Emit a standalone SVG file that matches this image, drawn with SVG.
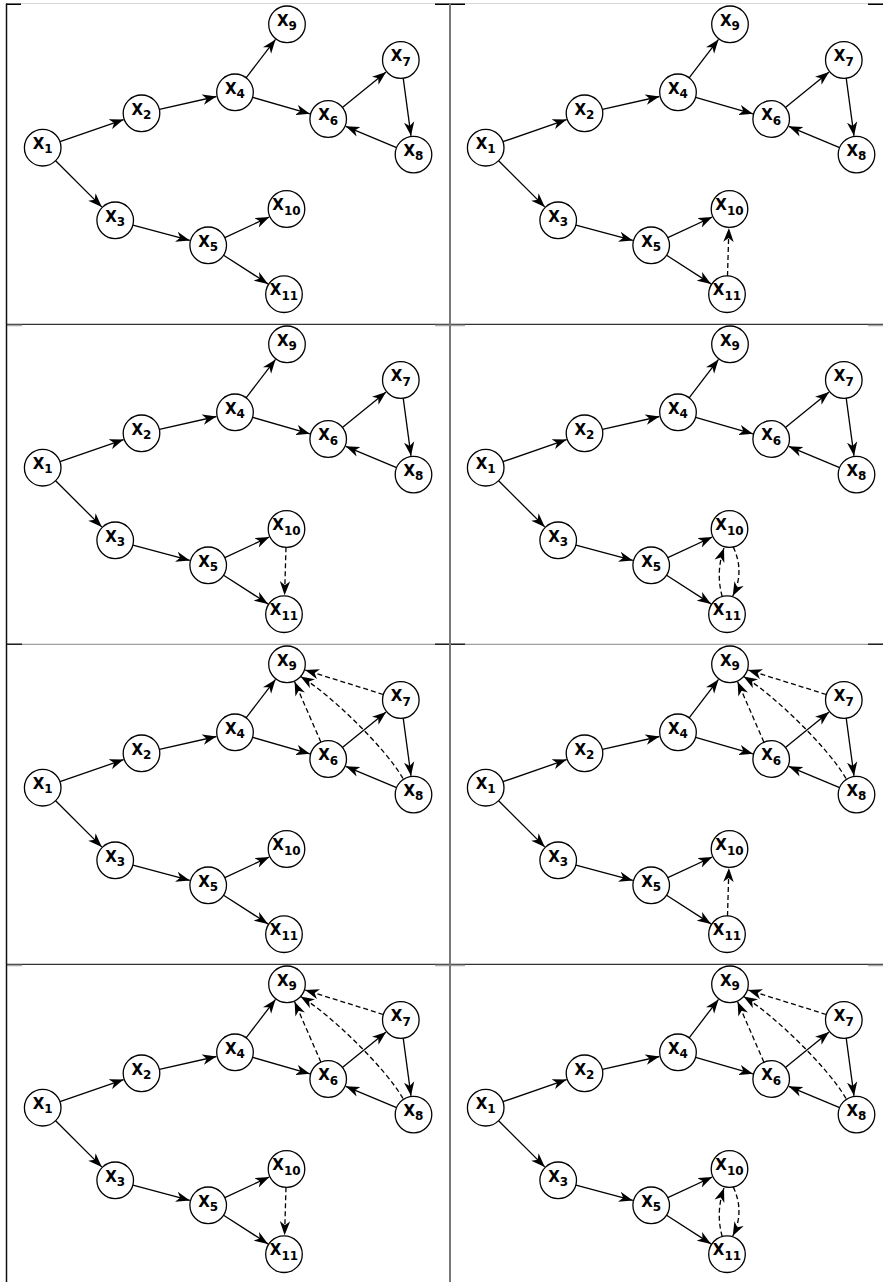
<svg xmlns="http://www.w3.org/2000/svg" width="883" height="1282" viewBox="0 0 883 1282">
<style>
.e{stroke:#000;stroke-width:1.3;fill:none;marker-end:url(#ah)}
.d{stroke-dasharray:5 3}
circle{fill:#fff;stroke:#000;stroke-width:1.3}
text{font-family:"DejaVu Sans",sans-serif;font-weight:bold;font-size:15px;text-anchor:middle;fill:#000}
.s{font-size:12px}
.fr{fill:none}
</style>
<defs>
<marker id="ah" viewBox="0 0 14 11" refX="14" refY="5.5" markerWidth="14" markerHeight="11" markerUnits="userSpaceOnUse" orient="auto">
<path d="M0,0.3 L14,5.5 L0,10.7 L4,5.5 Z" fill="#000"/>
</marker>
</defs>
<rect width="883" height="1282" fill="#fff"/>
<g id="frame" class="fr">
<line x1="6" y1="3.5" x2="883" y2="3.5" stroke="#d8d8d8" stroke-width="1"/>
<path d="M6,4.3 H21 M435,4.3 H465 M868,4.3 H883" stroke="#000" stroke-width="1.5"/>
<line x1="6" y1="324.3" x2="883" y2="324.3" stroke="#333" stroke-width="1.2"/>
<path d="M7,325.5 H22 M435,325.5 H465 M868,325.5 H883" stroke="#aaa" stroke-width="1.3"/>
<line x1="6" y1="644.3" x2="883" y2="644.3" stroke="#888" stroke-width="1"/>
<path d="M7,644.3 H22 M435,644.3 H465 M868,644.3 H883" stroke="#222" stroke-width="1.4"/>
<line x1="6" y1="964.3" x2="883" y2="964.3" stroke="#333" stroke-width="1.2"/>
<path d="M7,965.5 H22 M435,965.5 H465 M868,965.5 H883" stroke="#aaa" stroke-width="1.3"/>
<line x1="6.5" y1="3.5" x2="6.5" y2="1282" stroke="#111" stroke-width="1.5"/>
<line x1="450" y1="3.5" x2="450" y2="1282" stroke="#777" stroke-width="2"/>
</g>

<!-- Panel 1 -->
<g id="panel1">
<g id="p1-edges">
<path class="e" d="M60,141.7 L123.6,119.6"/>
<path class="e" d="M55.6,160.7 L101.8,206.9"/>
<path class="e" d="M159.4,109.3 L216.5,96.5"/>
<path class="e" d="M246.1,77.8 L275.5,39.4"/>
<path class="e" d="M252.6,97.3 L309.9,113.8"/>
<path class="e" d="M342.4,107.5 L386.1,72"/>
<path class="e" d="M403.2,78.1 L411,135.8"/>
<path class="e" d="M396.6,147.6 L345.7,126.3"/>
<path class="e" d="M132.9,225.1 L189.9,240.4"/>
<path class="e" d="M224.8,237.6 L269.3,217"/>
<path class="e" d="M223.6,255.2 L268,283.9"/>
</g>
<g id="p1-x1"><circle cx="42.7" cy="147.7" r="18.3"/><text x="42.7" y="148.9">X<tspan class="s" dy="4.5">1</tspan></text></g>
<g id="p1-x2"><circle cx="141.5" cy="113.3" r="18.3"/><text x="141.5" y="114.5">X<tspan class="s" dy="4.5">2</tspan></text></g>
<g id="p1-x3"><circle cx="115.2" cy="220.3" r="18.3"/><text x="115.2" y="221.5">X<tspan class="s" dy="4.5">3</tspan></text></g>
<g id="p1-x4"><circle cx="235" cy="92.3" r="18.3"/><text x="235" y="93.5">X<tspan class="s" dy="4.5">4</tspan></text></g>
<g id="p1-x5"><circle cx="208.2" cy="245.3" r="18.3"/><text x="208.2" y="246.5">X<tspan class="s" dy="4.5">5</tspan></text></g>
<g id="p1-x6"><circle cx="328.2" cy="119" r="18.3"/><text x="328.2" y="120.2">X<tspan class="s" dy="4.5">6</tspan></text></g>
<g id="p1-x7"><circle cx="400.8" cy="60" r="18.3"/><text x="400.8" y="61.2">X<tspan class="s" dy="4.5">7</tspan></text></g>
<g id="p1-x8"><circle cx="413.5" cy="154.6" r="18.3"/><text x="413.5" y="155.8">X<tspan class="s" dy="4.5">8</tspan></text></g>
<g id="p1-x9"><circle cx="287" cy="24.3" r="18.3"/><text x="287" y="25.5">X<tspan class="s" dy="4.5">9</tspan></text></g>
<g id="p1-x10"><circle cx="286.5" cy="209" r="18.3"/><text x="286.5" y="210.2">X<tspan class="s" dy="4.5">10</tspan></text></g>
<g id="p1-x11"><circle cx="284" cy="294.2" r="18.3"/><text x="284" y="295.4">X<tspan class="s" dy="4.5">11</tspan></text></g>
</g>

<!-- Panel 2 -->
<g id="panel2" transform="translate(443,0)">
<g id="p2-edges">
<path class="e" d="M60,141.7 L123.6,119.6"/>
<path class="e" d="M55.6,160.7 L101.8,206.9"/>
<path class="e" d="M159.4,109.3 L216.5,96.5"/>
<path class="e" d="M246.1,77.8 L275.5,39.4"/>
<path class="e" d="M252.6,97.3 L309.9,113.8"/>
<path class="e" d="M342.4,107.5 L386.1,72"/>
<path class="e" d="M403.2,78.1 L411,135.8"/>
<path class="e" d="M396.6,147.6 L345.7,126.3"/>
<path class="e" d="M132.9,225.1 L189.9,240.4"/>
<path class="e" d="M224.8,237.6 L269.3,217"/>
<path class="e" d="M223.6,255.2 L268,283.9"/>
<path class="e d" d="M284.5,275.9 L285.9,228"/>
</g>
<g id="p2-x1"><circle cx="42.7" cy="147.7" r="18.3"/><text x="42.7" y="148.9">X<tspan class="s" dy="4.5">1</tspan></text></g>
<g id="p2-x2"><circle cx="141.5" cy="113.3" r="18.3"/><text x="141.5" y="114.5">X<tspan class="s" dy="4.5">2</tspan></text></g>
<g id="p2-x3"><circle cx="115.2" cy="220.3" r="18.3"/><text x="115.2" y="221.5">X<tspan class="s" dy="4.5">3</tspan></text></g>
<g id="p2-x4"><circle cx="235" cy="92.3" r="18.3"/><text x="235" y="93.5">X<tspan class="s" dy="4.5">4</tspan></text></g>
<g id="p2-x5"><circle cx="208.2" cy="245.3" r="18.3"/><text x="208.2" y="246.5">X<tspan class="s" dy="4.5">5</tspan></text></g>
<g id="p2-x6"><circle cx="328.2" cy="119" r="18.3"/><text x="328.2" y="120.2">X<tspan class="s" dy="4.5">6</tspan></text></g>
<g id="p2-x7"><circle cx="400.8" cy="60" r="18.3"/><text x="400.8" y="61.2">X<tspan class="s" dy="4.5">7</tspan></text></g>
<g id="p2-x8"><circle cx="413.5" cy="154.6" r="18.3"/><text x="413.5" y="155.8">X<tspan class="s" dy="4.5">8</tspan></text></g>
<g id="p2-x9"><circle cx="287" cy="24.3" r="18.3"/><text x="287" y="25.5">X<tspan class="s" dy="4.5">9</tspan></text></g>
<g id="p2-x10"><circle cx="286.5" cy="209" r="18.3"/><text x="286.5" y="210.2">X<tspan class="s" dy="4.5">10</tspan></text></g>
<g id="p2-x11"><circle cx="284" cy="294.2" r="18.3"/><text x="284" y="295.4">X<tspan class="s" dy="4.5">11</tspan></text></g>
</g>

<!-- Panel 3 -->
<g id="panel3" transform="translate(0,320)">
<g id="p3-edges">
<path class="e" d="M60,141.7 L123.6,119.6"/>
<path class="e" d="M55.6,160.7 L101.8,206.9"/>
<path class="e" d="M159.4,109.3 L216.5,96.5"/>
<path class="e" d="M246.1,77.8 L275.5,39.4"/>
<path class="e" d="M252.6,97.3 L309.9,113.8"/>
<path class="e" d="M342.4,107.5 L386.1,72"/>
<path class="e" d="M403.2,78.1 L411,135.8"/>
<path class="e" d="M396.6,147.6 L345.7,126.3"/>
<path class="e" d="M132.9,225.1 L189.9,240.4"/>
<path class="e" d="M224.8,237.6 L269.3,217"/>
<path class="e" d="M223.6,255.2 L268,283.9"/>
<path class="e d" d="M286,227.3 L284.6,275.2"/>
</g>
<g id="p3-x1"><circle cx="42.7" cy="147.7" r="18.3"/><text x="42.7" y="148.9">X<tspan class="s" dy="4.5">1</tspan></text></g>
<g id="p3-x2"><circle cx="141.5" cy="113.3" r="18.3"/><text x="141.5" y="114.5">X<tspan class="s" dy="4.5">2</tspan></text></g>
<g id="p3-x3"><circle cx="115.2" cy="220.3" r="18.3"/><text x="115.2" y="221.5">X<tspan class="s" dy="4.5">3</tspan></text></g>
<g id="p3-x4"><circle cx="235" cy="92.3" r="18.3"/><text x="235" y="93.5">X<tspan class="s" dy="4.5">4</tspan></text></g>
<g id="p3-x5"><circle cx="208.2" cy="245.3" r="18.3"/><text x="208.2" y="246.5">X<tspan class="s" dy="4.5">5</tspan></text></g>
<g id="p3-x6"><circle cx="328.2" cy="119" r="18.3"/><text x="328.2" y="120.2">X<tspan class="s" dy="4.5">6</tspan></text></g>
<g id="p3-x7"><circle cx="400.8" cy="60" r="18.3"/><text x="400.8" y="61.2">X<tspan class="s" dy="4.5">7</tspan></text></g>
<g id="p3-x8"><circle cx="413.5" cy="154.6" r="18.3"/><text x="413.5" y="155.8">X<tspan class="s" dy="4.5">8</tspan></text></g>
<g id="p3-x9"><circle cx="287" cy="24.3" r="18.3"/><text x="287" y="25.5">X<tspan class="s" dy="4.5">9</tspan></text></g>
<g id="p3-x10"><circle cx="286.5" cy="209" r="18.3"/><text x="286.5" y="210.2">X<tspan class="s" dy="4.5">10</tspan></text></g>
<g id="p3-x11"><circle cx="284" cy="294.2" r="18.3"/><text x="284" y="295.4">X<tspan class="s" dy="4.5">11</tspan></text></g>
</g>

<!-- Panel 4 -->
<g id="panel4" transform="translate(443,320)">
<g id="p4-edges">
<path class="e" d="M60,141.7 L123.6,119.6"/>
<path class="e" d="M55.6,160.7 L101.8,206.9"/>
<path class="e" d="M159.4,109.3 L216.5,96.5"/>
<path class="e" d="M246.1,77.8 L275.5,39.4"/>
<path class="e" d="M252.6,97.3 L309.9,113.8"/>
<path class="e" d="M342.4,107.5 L386.1,72"/>
<path class="e" d="M403.2,78.1 L411,135.8"/>
<path class="e" d="M396.6,147.6 L345.7,126.3"/>
<path class="e" d="M132.9,225.1 L189.9,240.4"/>
<path class="e" d="M224.8,237.6 L269.3,217"/>
<path class="e" d="M223.6,255.2 L268,283.9"/>
<path class="e d" d="M279.2,276.5 Q272.5,252.5 281,228"/>
<path class="e d" d="M290.2,226.9 Q302,252 289.7,276.1"/>
</g>
<g id="p4-x1"><circle cx="42.7" cy="147.7" r="18.3"/><text x="42.7" y="148.9">X<tspan class="s" dy="4.5">1</tspan></text></g>
<g id="p4-x2"><circle cx="141.5" cy="113.3" r="18.3"/><text x="141.5" y="114.5">X<tspan class="s" dy="4.5">2</tspan></text></g>
<g id="p4-x3"><circle cx="115.2" cy="220.3" r="18.3"/><text x="115.2" y="221.5">X<tspan class="s" dy="4.5">3</tspan></text></g>
<g id="p4-x4"><circle cx="235" cy="92.3" r="18.3"/><text x="235" y="93.5">X<tspan class="s" dy="4.5">4</tspan></text></g>
<g id="p4-x5"><circle cx="208.2" cy="245.3" r="18.3"/><text x="208.2" y="246.5">X<tspan class="s" dy="4.5">5</tspan></text></g>
<g id="p4-x6"><circle cx="328.2" cy="119" r="18.3"/><text x="328.2" y="120.2">X<tspan class="s" dy="4.5">6</tspan></text></g>
<g id="p4-x7"><circle cx="400.8" cy="60" r="18.3"/><text x="400.8" y="61.2">X<tspan class="s" dy="4.5">7</tspan></text></g>
<g id="p4-x8"><circle cx="413.5" cy="154.6" r="18.3"/><text x="413.5" y="155.8">X<tspan class="s" dy="4.5">8</tspan></text></g>
<g id="p4-x9"><circle cx="287" cy="24.3" r="18.3"/><text x="287" y="25.5">X<tspan class="s" dy="4.5">9</tspan></text></g>
<g id="p4-x10"><circle cx="286.5" cy="209" r="18.3"/><text x="286.5" y="210.2">X<tspan class="s" dy="4.5">10</tspan></text></g>
<g id="p4-x11"><circle cx="284" cy="294.2" r="18.3"/><text x="284" y="295.4">X<tspan class="s" dy="4.5">11</tspan></text></g>
</g>

<!-- Panel 5 -->
<g id="panel5" transform="translate(0,640)">
<g id="p5-edges">
<path class="e" d="M60,141.7 L123.6,119.6"/>
<path class="e" d="M55.6,160.7 L101.8,206.9"/>
<path class="e" d="M159.4,109.3 L216.5,96.5"/>
<path class="e" d="M246.1,77.8 L275.5,39.4"/>
<path class="e" d="M252.6,97.3 L309.9,113.8"/>
<path class="e" d="M342.4,107.5 L386.1,72"/>
<path class="e" d="M403.2,78.1 L411,135.8"/>
<path class="e" d="M396.6,147.6 L345.7,126.3"/>
<path class="e" d="M132.9,225.1 L189.9,240.4"/>
<path class="e" d="M224.8,237.6 L269.3,217"/>
<path class="e" d="M223.6,255.2 L268,283.9"/>
<path class="e d" d="M383.3,54.5 L305.1,30"/>
<path class="e d" d="M320.9,102.2 L294.6,41.7"/>
<path class="e d" d="M403,138.5 C385.5,108 330.6,54.4 300.5,36.5"/>
</g>
<g id="p5-x1"><circle cx="42.7" cy="147.7" r="18.3"/><text x="42.7" y="148.9">X<tspan class="s" dy="4.5">1</tspan></text></g>
<g id="p5-x2"><circle cx="141.5" cy="113.3" r="18.3"/><text x="141.5" y="114.5">X<tspan class="s" dy="4.5">2</tspan></text></g>
<g id="p5-x3"><circle cx="115.2" cy="220.3" r="18.3"/><text x="115.2" y="221.5">X<tspan class="s" dy="4.5">3</tspan></text></g>
<g id="p5-x4"><circle cx="235" cy="92.3" r="18.3"/><text x="235" y="93.5">X<tspan class="s" dy="4.5">4</tspan></text></g>
<g id="p5-x5"><circle cx="208.2" cy="245.3" r="18.3"/><text x="208.2" y="246.5">X<tspan class="s" dy="4.5">5</tspan></text></g>
<g id="p5-x6"><circle cx="328.2" cy="119" r="18.3"/><text x="328.2" y="120.2">X<tspan class="s" dy="4.5">6</tspan></text></g>
<g id="p5-x7"><circle cx="400.8" cy="60" r="18.3"/><text x="400.8" y="61.2">X<tspan class="s" dy="4.5">7</tspan></text></g>
<g id="p5-x8"><circle cx="413.5" cy="154.6" r="18.3"/><text x="413.5" y="155.8">X<tspan class="s" dy="4.5">8</tspan></text></g>
<g id="p5-x9"><circle cx="287" cy="24.3" r="18.3"/><text x="287" y="25.5">X<tspan class="s" dy="4.5">9</tspan></text></g>
<g id="p5-x10"><circle cx="286.5" cy="209" r="18.3"/><text x="286.5" y="210.2">X<tspan class="s" dy="4.5">10</tspan></text></g>
<g id="p5-x11"><circle cx="284" cy="294.2" r="18.3"/><text x="284" y="295.4">X<tspan class="s" dy="4.5">11</tspan></text></g>
</g>

<!-- Panel 6 -->
<g id="panel6" transform="translate(443,640)">
<g id="p6-edges">
<path class="e" d="M60,141.7 L123.6,119.6"/>
<path class="e" d="M55.6,160.7 L101.8,206.9"/>
<path class="e" d="M159.4,109.3 L216.5,96.5"/>
<path class="e" d="M246.1,77.8 L275.5,39.4"/>
<path class="e" d="M252.6,97.3 L309.9,113.8"/>
<path class="e" d="M342.4,107.5 L386.1,72"/>
<path class="e" d="M403.2,78.1 L411,135.8"/>
<path class="e" d="M396.6,147.6 L345.7,126.3"/>
<path class="e" d="M132.9,225.1 L189.9,240.4"/>
<path class="e" d="M224.8,237.6 L269.3,217"/>
<path class="e" d="M223.6,255.2 L268,283.9"/>
<path class="e d" d="M383.3,54.5 L305.1,30"/>
<path class="e d" d="M320.9,102.2 L294.6,41.7"/>
<path class="e d" d="M403,138.5 C385.5,108 330.6,54.4 300.5,36.5"/>
<path class="e d" d="M284.5,275.9 L285.9,228"/>
</g>
<g id="p6-x1"><circle cx="42.7" cy="147.7" r="18.3"/><text x="42.7" y="148.9">X<tspan class="s" dy="4.5">1</tspan></text></g>
<g id="p6-x2"><circle cx="141.5" cy="113.3" r="18.3"/><text x="141.5" y="114.5">X<tspan class="s" dy="4.5">2</tspan></text></g>
<g id="p6-x3"><circle cx="115.2" cy="220.3" r="18.3"/><text x="115.2" y="221.5">X<tspan class="s" dy="4.5">3</tspan></text></g>
<g id="p6-x4"><circle cx="235" cy="92.3" r="18.3"/><text x="235" y="93.5">X<tspan class="s" dy="4.5">4</tspan></text></g>
<g id="p6-x5"><circle cx="208.2" cy="245.3" r="18.3"/><text x="208.2" y="246.5">X<tspan class="s" dy="4.5">5</tspan></text></g>
<g id="p6-x6"><circle cx="328.2" cy="119" r="18.3"/><text x="328.2" y="120.2">X<tspan class="s" dy="4.5">6</tspan></text></g>
<g id="p6-x7"><circle cx="400.8" cy="60" r="18.3"/><text x="400.8" y="61.2">X<tspan class="s" dy="4.5">7</tspan></text></g>
<g id="p6-x8"><circle cx="413.5" cy="154.6" r="18.3"/><text x="413.5" y="155.8">X<tspan class="s" dy="4.5">8</tspan></text></g>
<g id="p6-x9"><circle cx="287" cy="24.3" r="18.3"/><text x="287" y="25.5">X<tspan class="s" dy="4.5">9</tspan></text></g>
<g id="p6-x10"><circle cx="286.5" cy="209" r="18.3"/><text x="286.5" y="210.2">X<tspan class="s" dy="4.5">10</tspan></text></g>
<g id="p6-x11"><circle cx="284" cy="294.2" r="18.3"/><text x="284" y="295.4">X<tspan class="s" dy="4.5">11</tspan></text></g>
</g>

<!-- Panel 7 -->
<g id="panel7" transform="translate(0,960)">
<g id="p7-edges">
<path class="e" d="M60,141.7 L123.6,119.6"/>
<path class="e" d="M55.6,160.7 L101.8,206.9"/>
<path class="e" d="M159.4,109.3 L216.5,96.5"/>
<path class="e" d="M246.1,77.8 L275.5,39.4"/>
<path class="e" d="M252.6,97.3 L309.9,113.8"/>
<path class="e" d="M342.4,107.5 L386.1,72"/>
<path class="e" d="M403.2,78.1 L411,135.8"/>
<path class="e" d="M396.6,147.6 L345.7,126.3"/>
<path class="e" d="M132.9,225.1 L189.9,240.4"/>
<path class="e" d="M224.8,237.6 L269.3,217"/>
<path class="e" d="M223.6,255.2 L268,283.9"/>
<path class="e d" d="M383.3,54.5 L305.1,30"/>
<path class="e d" d="M320.9,102.2 L294.6,41.7"/>
<path class="e d" d="M403,138.5 C385.5,108 330.6,54.4 300.5,36.5"/>
<path class="e d" d="M286,227.3 L284.6,275.2"/>
</g>
<g id="p7-x1"><circle cx="42.7" cy="147.7" r="18.3"/><text x="42.7" y="148.9">X<tspan class="s" dy="4.5">1</tspan></text></g>
<g id="p7-x2"><circle cx="141.5" cy="113.3" r="18.3"/><text x="141.5" y="114.5">X<tspan class="s" dy="4.5">2</tspan></text></g>
<g id="p7-x3"><circle cx="115.2" cy="220.3" r="18.3"/><text x="115.2" y="221.5">X<tspan class="s" dy="4.5">3</tspan></text></g>
<g id="p7-x4"><circle cx="235" cy="92.3" r="18.3"/><text x="235" y="93.5">X<tspan class="s" dy="4.5">4</tspan></text></g>
<g id="p7-x5"><circle cx="208.2" cy="245.3" r="18.3"/><text x="208.2" y="246.5">X<tspan class="s" dy="4.5">5</tspan></text></g>
<g id="p7-x6"><circle cx="328.2" cy="119" r="18.3"/><text x="328.2" y="120.2">X<tspan class="s" dy="4.5">6</tspan></text></g>
<g id="p7-x7"><circle cx="400.8" cy="60" r="18.3"/><text x="400.8" y="61.2">X<tspan class="s" dy="4.5">7</tspan></text></g>
<g id="p7-x8"><circle cx="413.5" cy="154.6" r="18.3"/><text x="413.5" y="155.8">X<tspan class="s" dy="4.5">8</tspan></text></g>
<g id="p7-x9"><circle cx="287" cy="24.3" r="18.3"/><text x="287" y="25.5">X<tspan class="s" dy="4.5">9</tspan></text></g>
<g id="p7-x10"><circle cx="286.5" cy="209" r="18.3"/><text x="286.5" y="210.2">X<tspan class="s" dy="4.5">10</tspan></text></g>
<g id="p7-x11"><circle cx="284" cy="294.2" r="18.3"/><text x="284" y="295.4">X<tspan class="s" dy="4.5">11</tspan></text></g>
</g>

<!-- Panel 8 -->
<g id="panel8" transform="translate(443,960)">
<g id="p8-edges">
<path class="e" d="M60,141.7 L123.6,119.6"/>
<path class="e" d="M55.6,160.7 L101.8,206.9"/>
<path class="e" d="M159.4,109.3 L216.5,96.5"/>
<path class="e" d="M246.1,77.8 L275.5,39.4"/>
<path class="e" d="M252.6,97.3 L309.9,113.8"/>
<path class="e" d="M342.4,107.5 L386.1,72"/>
<path class="e" d="M403.2,78.1 L411,135.8"/>
<path class="e" d="M396.6,147.6 L345.7,126.3"/>
<path class="e" d="M132.9,225.1 L189.9,240.4"/>
<path class="e" d="M224.8,237.6 L269.3,217"/>
<path class="e" d="M223.6,255.2 L268,283.9"/>
<path class="e d" d="M383.3,54.5 L305.1,30"/>
<path class="e d" d="M320.9,102.2 L294.6,41.7"/>
<path class="e d" d="M403,138.5 C385.5,108 330.6,54.4 300.5,36.5"/>
<path class="e d" d="M279.2,276.5 Q272.5,252.5 281,228"/>
<path class="e d" d="M290.2,226.9 Q302,252 289.7,276.1"/>
</g>
<g id="p8-x1"><circle cx="42.7" cy="147.7" r="18.3"/><text x="42.7" y="148.9">X<tspan class="s" dy="4.5">1</tspan></text></g>
<g id="p8-x2"><circle cx="141.5" cy="113.3" r="18.3"/><text x="141.5" y="114.5">X<tspan class="s" dy="4.5">2</tspan></text></g>
<g id="p8-x3"><circle cx="115.2" cy="220.3" r="18.3"/><text x="115.2" y="221.5">X<tspan class="s" dy="4.5">3</tspan></text></g>
<g id="p8-x4"><circle cx="235" cy="92.3" r="18.3"/><text x="235" y="93.5">X<tspan class="s" dy="4.5">4</tspan></text></g>
<g id="p8-x5"><circle cx="208.2" cy="245.3" r="18.3"/><text x="208.2" y="246.5">X<tspan class="s" dy="4.5">5</tspan></text></g>
<g id="p8-x6"><circle cx="328.2" cy="119" r="18.3"/><text x="328.2" y="120.2">X<tspan class="s" dy="4.5">6</tspan></text></g>
<g id="p8-x7"><circle cx="400.8" cy="60" r="18.3"/><text x="400.8" y="61.2">X<tspan class="s" dy="4.5">7</tspan></text></g>
<g id="p8-x8"><circle cx="413.5" cy="154.6" r="18.3"/><text x="413.5" y="155.8">X<tspan class="s" dy="4.5">8</tspan></text></g>
<g id="p8-x9"><circle cx="287" cy="24.3" r="18.3"/><text x="287" y="25.5">X<tspan class="s" dy="4.5">9</tspan></text></g>
<g id="p8-x10"><circle cx="286.5" cy="209" r="18.3"/><text x="286.5" y="210.2">X<tspan class="s" dy="4.5">10</tspan></text></g>
<g id="p8-x11"><circle cx="284" cy="294.2" r="18.3"/><text x="284" y="295.4">X<tspan class="s" dy="4.5">11</tspan></text></g>
</g>
</svg>
